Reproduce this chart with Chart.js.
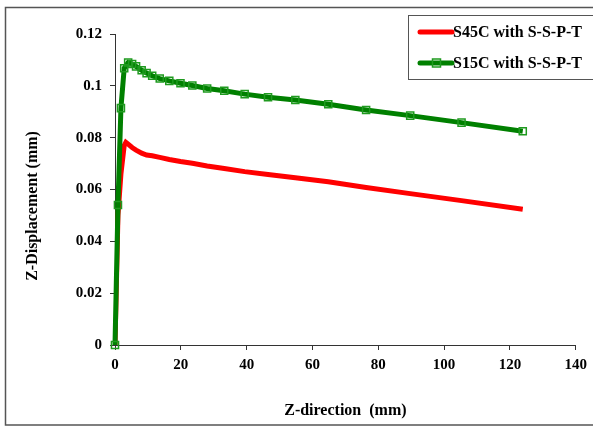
<!DOCTYPE html>
<html>
<head>
<meta charset="utf-8">
<script src="https://cdn.jsdelivr.net/npm/chart.js@4/dist/chart.umd.min.js"></script>
<style>
  html, body { margin: 0; padding: 0; background: #fff; }
  #wrap { width: 593px; height: 427px; position: relative; }
</style>
</head>
<body>
<div id="wrap"><canvas id="c" width="593" height="427"></canvas></div>
<script>
// ---- data ----
const seriesNames = ["S45C with S-S-P-T", "S15C with S-S-P-T"];
const xTitle = "Z-direction  (mm)";
const yTitle = "Z-Displacement (mm)";

const s45X = [0, 0.9, 1.8, 2.8, 3.3, 4.0, 5.2, 6.4, 8.1, 9.6, 11.3, 13.6, 16.5, 19.9, 23.5, 28.0, 33.2, 39.4, 46.5, 54.8, 64.8, 76.3, 89.7, 105.3, 123.9];
const s45Y = [0, 0.050, 0.066, 0.0770, 0.0782, 0.0775, 0.0762, 0.0752, 0.0740, 0.0733, 0.0730, 0.0724, 0.0716, 0.0708, 0.0701, 0.0691, 0.0681, 0.0669, 0.0658, 0.0645, 0.0630, 0.0608, 0.0584, 0.0557, 0.0524];

const s15X = [0, 0.9, 1.8, 2.8, 4.0, 5.2, 6.4, 8.1, 9.6, 11.3, 13.6, 16.5, 19.9, 23.5, 28.0, 33.2, 39.4, 46.5, 54.8, 64.8, 76.3, 89.7, 105.3, 123.9];
const s15Y = [0, 0.054, 0.0914, 0.1068, 0.1090, 0.1084, 0.1075, 0.1060, 0.1049, 0.1039, 0.1028, 0.1019, 0.1010, 0.1001, 0.0990, 0.0981, 0.0968, 0.0956, 0.0945, 0.0929, 0.0907, 0.0885, 0.0858, 0.0825];

const xTicks = [0, 20, 40, 60, 80, 100, 120, 140];
const yTicks = [0, 0.02, 0.04, 0.06, 0.08, 0.1, 0.12];

const toPts = (xs, ys) => xs.map((x, i) => ({ x: x, y: ys[i] }));

const RED = '#ff0000';
const GREEN = '#008000';
const FONT = '"Liberation Serif", "Times New Roman", serif';

const framePlugin = {
  id: 'frame',
  beforeDraw(chart) {
    const ctx = chart.ctx;
    ctx.save();
    ctx.fillStyle = '#fff';
    ctx.fillRect(0, 0, chart.width, chart.height);
    ctx.strokeStyle = '#555';
    ctx.lineWidth = 1.5;
    ctx.strokeRect(5.5, 7.5, 620, 417.5);
    ctx.restore();
  }
};

const yTitlePlugin = {
  id: 'ytitle',
  afterDraw(chart) {
    const ctx = chart.ctx;
    ctx.save();
    ctx.translate(33, 206);
    ctx.rotate(-Math.PI / 2);
    ctx.font = 'bold 16px ' + FONT;
    ctx.fillStyle = '#000';
    ctx.textAlign = 'center';
    ctx.textBaseline = 'middle';
    ctx.fillText(yTitle, 0, 0);
    ctx.restore();
  }
};

const legendPlugin = {
  id: 'boxlegend',
  afterDraw(chart) {
    const ctx = chart.ctx;
    const bx = 408.5, by = 15.5, bw = 190, bh = 64;
    ctx.save();
    ctx.fillStyle = '#fff';
    ctx.fillRect(bx, by, bw, bh);
    ctx.strokeStyle = '#555';
    ctx.lineWidth = 1;
    ctx.strokeRect(bx, by, bw, bh);
    const rows = [32, 63];
    chart.data.datasets.forEach((ds, i) => {
      const y = rows[i];
      ctx.strokeStyle = ds.borderColor;
      ctx.lineWidth = 5;
      ctx.lineCap = 'round';
      ctx.beginPath();
      ctx.moveTo(420, y);
      ctx.lineTo(452, y);
      ctx.stroke();
      if (ds.pointRadius > 0) {
        ctx.lineWidth = 1.5;
        ctx.strokeStyle = ds.pointBorderColor;
        ctx.strokeRect(432.5, y - 4, 8, 8);
      }
      ctx.fillStyle = '#000';
      ctx.font = 'bold 16px ' + FONT;
      ctx.textAlign = 'left';
      ctx.textBaseline = 'middle';
      ctx.fillText(ds.label, 453, y + 1);
    });
    ctx.restore();
  }
};

new Chart(document.getElementById('c'), {
  type: 'scatter',
  data: {
    datasets: [
      {
        label: seriesNames[0],
        data: toPts(s45X, s45Y),
        showLine: true,
        borderColor: RED,
        backgroundColor: RED,
        borderWidth: 5,
        pointRadius: 0,
        tension: 0,
        order: 1
      },
      {
        label: seriesNames[1],
        data: toPts(s15X, s15Y),
        showLine: true,
        borderColor: GREEN,
        backgroundColor: 'rgba(0,0,0,0)',
        borderWidth: 5,
        pointStyle: 'rect',
        pointRadius: 5,
        pointBorderWidth: 1.5,
        pointBorderColor: '#1f9a1f',
        pointBackgroundColor: 'rgba(0,0,0,0)',
        tension: 0,
        clip: 8,
        order: 0
      }
    ]
  },
  options: {
    responsive: false,
    animation: false,
    devicePixelRatio: 1,
    layout: { padding: { top: 34, right: 16, bottom: 0, left: 0 } },
    plugins: {
      legend: { display: false },
      tooltip: { enabled: false }
    },
    scales: {
      x: {
        type: 'linear',
        min: 0, max: 140,
        afterBuildTicks(scale) { scale.ticks = xTicks.map(v => ({ value: v })); },
        afterFit(scale) { scale.height = 82; },
        grid: { display: true, drawOnChartArea: false, drawTicks: true, tickLength: 5, color: '#333', lineWidth: 1 },
        border: { display: true, color: '#333', width: 1 },
        ticks: {
          color: '#000',
          padding: 6,
          font: { family: FONT, size: 15, weight: 'bold' },
          callback: v => String(v)
        },
        title: {
          display: true,
          text: xTitle,
          color: '#000',
          font: { family: FONT, size: 16, weight: 'bold' },
          padding: { top: 0, bottom: 7 }
        }
      },
      y: {
        type: 'linear',
        min: 0, max: 0.12,
        afterBuildTicks(scale) { scale.ticks = yTicks.map(v => ({ value: v })); },
        afterFit(scale) { scale.width = 115; },
        grid: { display: true, drawOnChartArea: false, drawTicks: true, tickLength: 5, color: '#333', lineWidth: 1 },
        border: { display: true, color: '#333', width: 1 },
        ticks: {
          color: '#000',
          padding: 8,
          font: { family: FONT, size: 15, weight: 'bold' },
          callback: v => String(+v.toFixed(2))
        }
      }
    }
  },
  plugins: [framePlugin, yTitlePlugin, legendPlugin]
});
</script>
</body>
</html>
